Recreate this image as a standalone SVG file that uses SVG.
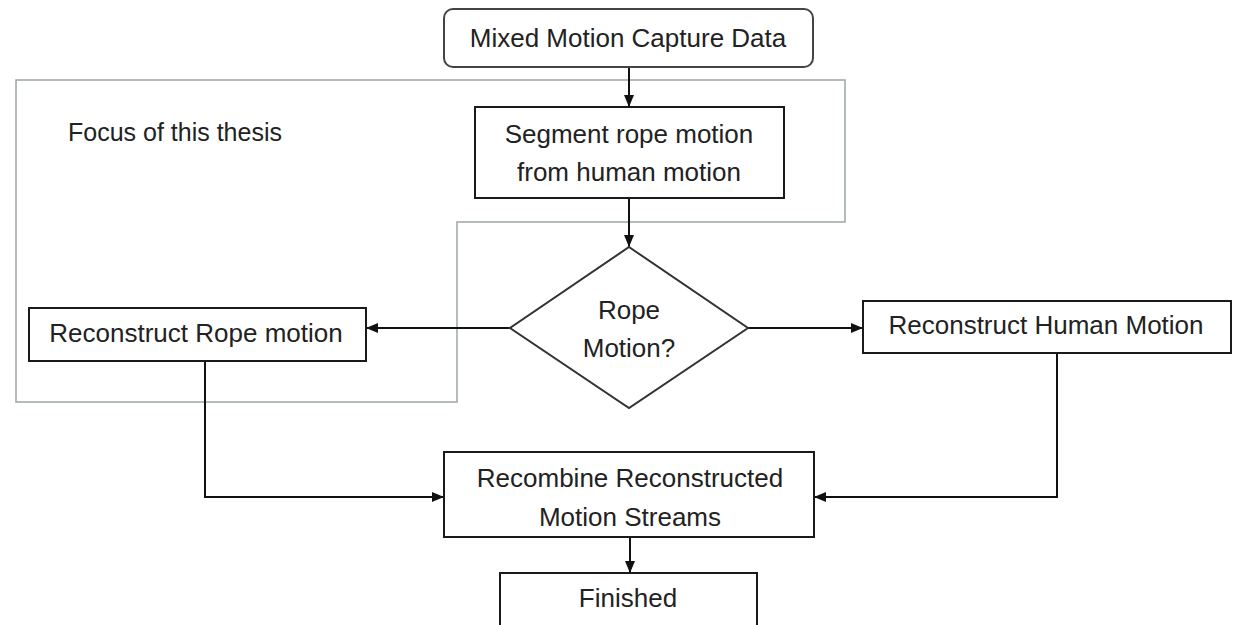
<svg xmlns="http://www.w3.org/2000/svg" width="1238" height="625" viewBox="0 0 1238 625">
<style>
.box{fill:#fff;stroke:#1a1a1a;stroke-width:2}
.lbl{font-family:"Liberation Sans",Arial,sans-serif;font-size:26px;fill:#222;text-anchor:middle}
.con{fill:none;stroke:#111;stroke-width:2}
.region{fill:none;stroke:#9aa6a4;stroke-width:1.5}
</style>
<defs>
<marker id="ah" viewBox="0 0 12 10" refX="12" refY="5" markerWidth="12" markerHeight="10" markerUnits="userSpaceOnUse" orient="auto">
<path d="M0,0 L12,5 L0,10 Z" fill="#111"/>
</marker>
</defs>
<rect width="1238" height="625" fill="#fff"/>
<g id="thesis-region">
<path class="region" d="M16,80 H845 V222 H457 V402 H16 Z"/>
<text x="68" y="141" class="lbl" style="text-anchor:start;font-size:25px">Focus of this thesis</text>
</g>
<g id="connectors">
<path class="con" d="M629,67 V107" marker-end="url(#ah)"/>
<path class="con" d="M629,198 V247" marker-end="url(#ah)"/>
<path class="con" d="M510,328 H366" marker-end="url(#ah)"/>
<path class="con" d="M748,328 H863" marker-end="url(#ah)"/>
<path class="con" d="M205,361 V497 H444" marker-end="url(#ah)"/>
<path class="con" d="M1057,353 V497 H814" marker-end="url(#ah)"/>
<path class="con" d="M630,537 V573" marker-end="url(#ah)"/>
</g>
<g id="mixed-data">
<rect class="box" x="444" y="9" width="369" height="58" rx="9" style="stroke:#444"/>
<text x="628" y="47" class="lbl">Mixed Motion Capture Data</text>
</g>
<g id="segment">
<rect class="box" x="475" y="107" width="309" height="91"/>
<text x="629" y="143" class="lbl">Segment rope motion</text>
<text x="629" y="181" class="lbl">from human motion</text>
</g>
<g id="decision">
<polygon class="box" points="629,247 748,328 629,408 510,328" style="stroke:#333"/>
<text x="629" y="319" class="lbl">Rope</text>
<text x="629" y="357" class="lbl">Motion?</text>
</g>
<g id="rope-recon">
<rect class="box" x="29" y="308" width="337" height="53"/>
<text x="196" y="342" class="lbl">Reconstruct Rope motion</text>
</g>
<g id="human-recon">
<rect class="box" x="863" y="301" width="368" height="52"/>
<text x="1046" y="334" class="lbl">Reconstruct Human Motion</text>
</g>
<g id="recombine">
<rect class="box" x="444" y="452" width="370" height="85"/>
<text x="630" y="487" class="lbl">Recombine Reconstructed</text>
<text x="630" y="526" class="lbl">Motion Streams</text>
</g>
<g id="finished">
<rect class="box" x="500" y="573" width="257" height="60"/>
<text x="628" y="607" class="lbl">Finished</text>
</g>
</svg>
